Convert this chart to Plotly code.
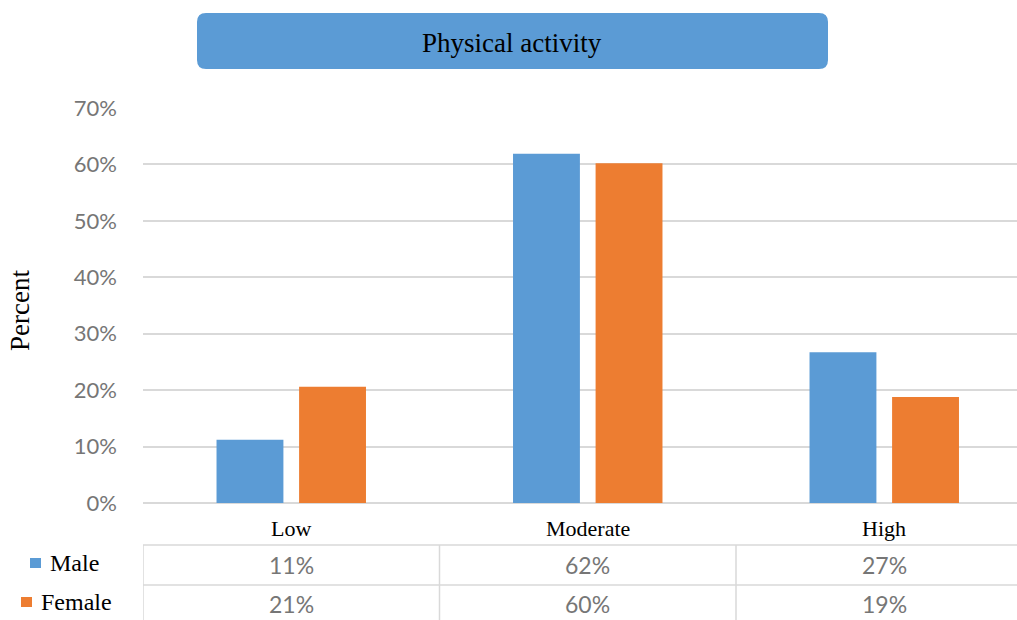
import plotly.graph_objects as go

categories = ["Low", "Moderate", "High"]
male = [0.112, 0.619, 0.267]
female = [0.206, 0.602, 0.188]
series_names = ["Male", "Female"]
y_ticks = [0, 0.1, 0.2, 0.3, 0.4, 0.5, 0.6, 0.7]
y_ticklabels = ["0%", "10%", "20%", "30%", "40%", "50%", "60%", "70%"]

BLUE = "#5B9BD5"
ORANGE = "#ED7D31"
GRID = "#D9D9D9"
TICKGRAY = "#767676"
SERIF = "Liberation Serif"
SANS = "Lato"

W, H = 1017, 620
L, R, T, B = 143, 0, 108, 117
PW = W - L - R
PH = H - T - B


def px(x):
    return (x - L) / PW


def py(y):
    return (H - B - y) / PH


fig = go.Figure()
fig.add_trace(go.Bar(x=list(range(len(categories))), y=male, name=series_names[0],
                     marker=dict(color=BLUE, line=dict(width=0))))
fig.add_trace(go.Bar(x=list(range(len(categories))), y=female, name=series_names[1],
                     marker=dict(color=ORANGE, line=dict(width=0))))

pitch = 296.5
xmax = -0.5 + PW / pitch

shapes = []
annotations = []

# Title box with rounded corners
x0, x1, y0, y1, r = 197, 828, 13, 69, 9
rx, ry = r / PW, r / PH
X0, X1, Y0, Y1 = px(x0), px(x1), py(y1), py(y0)
path = (f"M {X0+rx},{Y0} L {X1-rx},{Y0} Q {X1},{Y0} {X1},{Y0+ry} "
        f"L {X1},{Y1-ry} Q {X1},{Y1} {X1-rx},{Y1} L {X0+rx},{Y1} "
        f"Q {X0},{Y1} {X0},{Y1-ry} L {X0},{Y0+ry} Q {X0},{Y0} {X0+rx},{Y0} Z")
shapes.append(dict(type="path", xref="paper", yref="paper", path=path,
                   fillcolor=BLUE, line=dict(width=0), layer="above"))
annotations.append(dict(text="Physical activity", xref="paper", yref="paper",
                        x=px(512), y=py(43), showarrow=False,
                        font=dict(family=SERIF, size=27, color="#000000"),
                        xanchor="center", yanchor="middle"))

# Y axis title
annotations.append(dict(text="Percent", xref="paper", yref="paper",
                        x=px(20), y=py(311), showarrow=False, textangle=-90,
                        font=dict(family=SERIF, size=27, color="#000000"),
                        xanchor="center", yanchor="middle"))

# Category labels
for i, c in enumerate(categories):
    annotations.append(dict(text=c, xref="x", yref="paper", x=i, y=py(528),
                            showarrow=False, xanchor="center", yanchor="middle",
                            font=dict(family=SERIF, size=22, color="#000000")))

# Data table lines
for yline in (545, 585):
    shapes.append(dict(type="line", xref="paper", yref="paper", x0=0, x1=1,
                       y0=py(yline), y1=py(yline), line=dict(color=GRID, width=1.5)))
for xv in (-0.5, 0.5, 1.5):
    shapes.append(dict(type="line", xref="x", yref="paper", x0=xv, x1=xv,
                       y0=py(545), y1=py(620), line=dict(color=GRID, width=1.5)))

# Data table values and legend keys
rows = [(male, BLUE, 565, 30, 41, 48), (female, ORANGE, 604, 21, 32, 39)]
for (vals, col, yc, sq0, sq1, tx), name in zip(rows, series_names):
    for i, v in enumerate(vals):
        annotations.append(dict(text=f"{round(v * 100)}%", xref="x", yref="paper",
                                x=i, y=py(yc), showarrow=False,
                                xanchor="center", yanchor="middle",
                                font=dict(family=SANS, size=23, color=TICKGRAY)))
    shapes.append(dict(type="rect", xref="paper", yref="paper",
                       x0=px(sq0), x1=px(sq1), y0=py(yc + 3), y1=py(yc - 7),
                       fillcolor=col, line=dict(width=0)))
    annotations.append(dict(text=name, xref="paper", yref="paper",
                            x=px(tx), y=py(yc - 2), showarrow=False,
                            xanchor="left", yanchor="middle",
                            font=dict(family=SERIF, size=24, color="#000000")))

fig.update_layout(
    width=W, height=H,
    margin=dict(l=L, r=R, t=T, b=B, pad=0),
    paper_bgcolor="white", plot_bgcolor="white",
    barmode="group", bargap=0.443, bargroupgap=0.19,
    showlegend=False,
    shapes=shapes, annotations=annotations,
    xaxis=dict(range=[-0.5, xmax], showticklabels=False, showgrid=False,
               zeroline=False, showline=False, ticks="", fixedrange=True),
    yaxis=dict(range=[0, 0.7], tickvals=y_ticks, ticktext=y_ticklabels,
               showgrid=True, gridcolor=GRID, gridwidth=1.5,
               zeroline=True, zerolinecolor=GRID, zerolinewidth=1.5,
               showline=False, ticks="", ticklabelstandoff=25,
               tickfont=dict(family=SANS, size=22, color=TICKGRAY)),
)

fig.write_html("out.html")
